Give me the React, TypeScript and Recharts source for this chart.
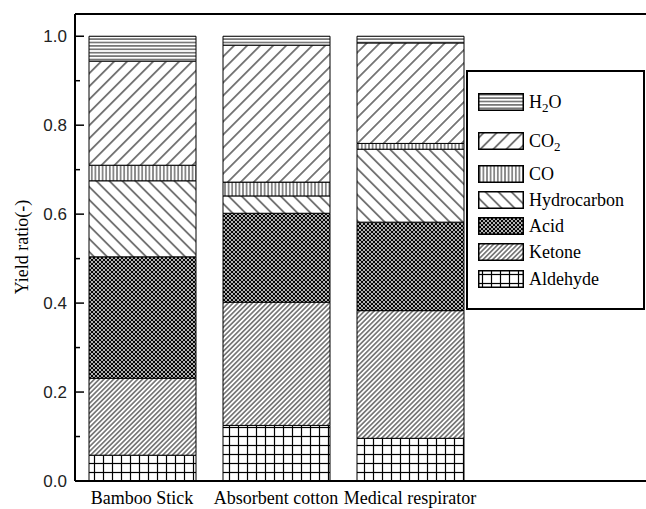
import React from 'react';
import { BarChart, Bar, XAxis, YAxis, ReferenceLine, Legend } from 'recharts';

const categories = ['Bamboo Stick', 'Absorbent cotton', 'Medical respirator'];
const aldehyde = [0.058, 0.125, 0.096];
const ketone = [0.173, 0.277, 0.287];
const acid = [0.273, 0.2, 0.199];
const hydrocarbon = [0.171, 0.039, 0.164];
const co = [0.035, 0.031, 0.013];
const co2 = [0.234, 0.308, 0.226];
const h2o = [0.056, 0.02, 0.015];
const yTicks = [0, 0.1, 0.2, 0.3, 0.4, 0.5, 0.6, 0.7, 0.8, 0.9, 1.0];
const yLabelTicks = [0, 0.2, 0.4, 0.6, 0.8, 1.0];

const series = [
  { key: 'aldehyde', name: 'Aldehyde', values: aldehyde, pattern: 'pAld' },
  { key: 'ketone', name: 'Ketone', values: ketone, pattern: 'pKet' },
  { key: 'acid', name: 'Acid', values: acid, pattern: 'pAcid' },
  { key: 'hydrocarbon', name: 'Hydrocarbon', values: hydrocarbon, pattern: 'pHyd' },
  { key: 'co', name: 'CO', values: co, pattern: 'pCO' },
  { key: 'co2', name: 'CO2', values: co2, pattern: 'pCO2' },
  { key: 'h2o', name: 'H2O', values: h2o, pattern: 'pH2O' },
];

const data = categories.map((name, i) => {
  const row: any = { name };
  series.forEach((s) => {
    row[s.key] = s.values[i];
  });
  return row;
});

const SERIF = '"Liberation Serif", "Times New Roman", serif';
const SANS = '"Liberation Sans", Arial, sans-serif';

const renderLabel = (name: string) => {
  const parts = name.split(/(\d)/);
  return parts.map((p, i) =>
    /\d/.test(p) ? (
      <sub key={i} style={{ fontSize: 13, verticalAlign: -4, lineHeight: 0 }}>{p}</sub>
    ) : (
      <span key={i}>{p}</span>
    )
  );
};

const rowGaps = [0, 39, 33, 26, 26, 26, 27];

const LegendContent = () => {
  const items = [...series].reverse();
  let acc = 30;
  return (
    <div
      style={{
        position: 'relative',
        width: 175,
        height: 236,
        border: '2px solid #000',
        background: '#fff',
        fontFamily: SERIF,
        fontSize: 18,
        color: '#000',
      }}
    >
      {items.map((s, i) => {
        acc += rowGaps[i];
        return (
          <div
            key={s.key}
            style={{ position: 'absolute', left: 10, top: acc - 9, height: 18, display: 'flex', alignItems: 'center' }}
          >
            <svg width={46} height={18} style={{ display: 'block' }}>
              <rect x={0.75} y={0.75} width={44.5} height={16.5} fill={`url(#${s.pattern})`} stroke="#000" strokeWidth={1.5} />
            </svg>
            <span style={{ marginLeft: 5, lineHeight: '18px', whiteSpace: 'nowrap' }}>{renderLabel(s.name)}</span>
          </div>
        );
      })}
    </div>
  );
};

const YTick = (props: any) => {
  const { x, y, payload } = props;
  const v = payload.value as number;
  const major = yLabelTicks.some((t) => Math.abs(t - v) < 1e-6);
  return (
    <g>
      <line x1={x} x2={x + (major ? 9 : 5)} y1={y} y2={y} stroke="#000" strokeWidth={1.5} />
      {major && (
        <text x={x - 8} y={y} dy={6} textAnchor="end" fontFamily={SANS} fontSize={17} fill="#222">
          {v.toFixed(1)}
        </text>
      )}
    </g>
  );
};

export default function App() {
  return (
    <div style={{ position: 'absolute', left: 0, top: 0, width: 646, height: 509, background: '#fff' }}>
      <BarChart
        width={646}
        height={509}
        data={data}
        margin={{ top: 14, right: 0, bottom: 0, left: 0 }}
        barSize={107}
      >
        <defs>
          <pattern id="pH2O" width="8" height="3.4" patternUnits="userSpaceOnUse">
            <rect width="8" height="3.4" fill="#fff" />
            <line x1="0" y1="1.7" x2="8" y2="1.7" stroke="#000" strokeWidth="0.9" />
          </pattern>
          <pattern id="pCO2" width="9.2" height="9.2" patternUnits="userSpaceOnUse" patternTransform="rotate(45)">
            <rect width="9.2" height="9.2" fill="#fff" />
            <line x1="4.6" y1="0" x2="4.6" y2="9.2" stroke="#000" strokeWidth="1" />
          </pattern>
          <pattern id="pCO" width="3.6" height="8" patternUnits="userSpaceOnUse">
            <rect width="3.6" height="8" fill="#fff" />
            <line x1="1.8" y1="0" x2="1.8" y2="8" stroke="#000" strokeWidth="0.9" />
          </pattern>
          <pattern id="pHyd" width="9.2" height="9.2" patternUnits="userSpaceOnUse" patternTransform="rotate(-45)">
            <rect width="9.2" height="9.2" fill="#fff" />
            <line x1="4.6" y1="0" x2="4.6" y2="9.2" stroke="#000" strokeWidth="1" />
          </pattern>
          <pattern id="pAcid" width="4" height="4" patternUnits="userSpaceOnUse">
            <rect width="4" height="4" fill="#fff" />
            <line x1="0" y1="0" x2="4" y2="4" stroke="#000" strokeWidth="1.2" />
            <line x1="0" y1="4" x2="4" y2="0" stroke="#000" strokeWidth="1.2" />
          </pattern>
          <pattern id="pKet" width="3.4" height="3.4" patternUnits="userSpaceOnUse" patternTransform="rotate(45)">
            <rect width="3.4" height="3.4" fill="#fff" />
            <line x1="1.7" y1="0" x2="1.7" y2="3.4" stroke="#000" strokeWidth="0.9" />
          </pattern>
          <pattern id="pAld" width="9" height="9" patternUnits="userSpaceOnUse">
            <rect width="9" height="9" fill="#fff" />
            <line x1="4.5" y1="0" x2="4.5" y2="9" stroke="#000" strokeWidth="1.2" />
            <line x1="0" y1="4.5" x2="9" y2="4.5" stroke="#000" strokeWidth="1.2" />
          </pattern>
        </defs>
        <XAxis
          dataKey="name"
          type="category"
          height={28}
          interval={0}
          padding={{ left: 0, right: 169 }}
          axisLine={{ stroke: '#000', strokeWidth: 2 }}
          tickLine={false}
          tickSize={0}
          tickMargin={10}
          tick={{ fontFamily: SERIF, fontSize: 18, fill: '#000' }}
        />
        <YAxis
          type="number"
          domain={[0, 1.05]}
          ticks={yTicks}
          width={75}
          allowDataOverflow
          axisLine={{ stroke: '#000', strokeWidth: 2 }}
          tickLine={false}
          tickSize={0}
          tickMargin={0}
          tick={<YTick />}
          label={{
            content: () => (
              <text
                x={22}
                y={247}
                transform="rotate(-90 22 247)"
                textAnchor="middle"
                dominantBaseline="central"
                fontFamily={SERIF}
                fontSize={18}
                fill="#000"
              >
                Yield ratio(-)
              </text>
            ),
          }}
        />
        <ReferenceLine y={1.05} stroke="#000" strokeWidth={2} ifOverflow="visible" />
        {series.map((s) => (
          <Bar
            key={s.key}
            dataKey={s.key}
            name={s.name}
            stackId="a"
            fill={`url(#${s.pattern})`}
            stroke="#000"
            strokeWidth={1}
            isAnimationActive={false}
          />
        ))}
        <Legend
          layout="vertical"
          align="center"
          verticalAlign="middle"
          content={<LegendContent />}
          wrapperStyle={{ position: 'absolute', left: 466, top: 70, width: 179, height: 240 }}
        />
      </BarChart>
    </div>
  );
}
